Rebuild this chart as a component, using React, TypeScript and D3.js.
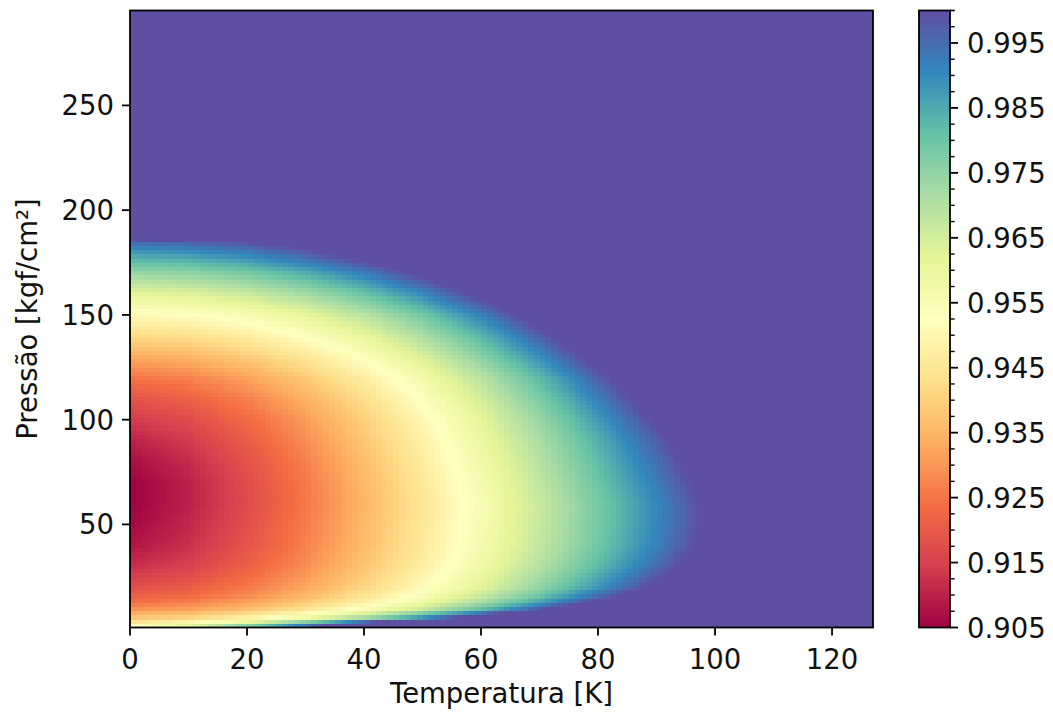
import React from "react";
import * as d3 from "d3";

// Grid of compressibility readings: temperature columns [K] and pressure rows [kgf/cm²].
// Cells past the Z = 1 edge carry values above 1; the colour scale saturates there.
const TEMPERATURES = [0, 10, 20, 30, 40, 50, 60, 70, 80, 90, 100, 127];
const PRESSURES = [1, 3, 6, 10, 15, 20, 30, 40, 50, 60, 70, 80, 90, 100, 110, 120, 130, 140, 150, 160, 170, 178, 184, 188, 295];

// One array per pressure row, values at each temperature column
const Z_P1 = [0.958, 0.968, 0.9828, 1.0, 1.018, 1.036, 1.055, 1.073, 1.091, 1.109, 1.127, 1.176];
const Z_P3 = [0.946, 0.9524, 0.9653, 0.983, 1.0045, 1.027, 1.05, 1.073, 1.095, 1.118, 1.141, 1.202];
const Z_P6 = [0.937, 0.9397, 0.9463, 0.9562, 0.9693, 0.9852, 1.0039, 1.0235, 1.043, 1.063, 1.082, 1.135];
const Z_P10 = [0.929, 0.931, 0.9361, 0.9437, 0.9536, 0.9658, 0.9801, 0.9965, 1.0142, 1.032, 1.05, 1.098];
const Z_P15 = [0.922, 0.9242, 0.9291, 0.9361, 0.945, 0.9556, 0.9679, 0.9816, 0.9968, 1.0129, 1.0291, 1.0728];
const Z_P20 = [0.918, 0.9205, 0.9257, 0.9327, 0.9412, 0.9512, 0.9624, 0.9749, 0.9884, 1.003, 1.0179, 1.0582];
const Z_P30 = [0.912, 0.9154, 0.9214, 0.9289, 0.9377, 0.9475, 0.9583, 0.9698, 0.9822, 0.9953, 1.0089, 1.0457];
const Z_P40 = [0.908, 0.9123, 0.919, 0.927, 0.936, 0.9459, 0.9564, 0.9676, 0.9794, 0.9917, 1.0045, 1.0393];
const Z_P50 = [0.906, 0.9109, 0.918, 0.9263, 0.9355, 0.9455, 0.956, 0.9671, 0.9787, 0.9907, 1.0031, 1.037];
const Z_P60 = [0.905, 0.9099, 0.9171, 0.9255, 0.9348, 0.9449, 0.9555, 0.9668, 0.9785, 0.9906, 1.0032, 1.0374];
const Z_P70 = [0.905, 0.91, 0.9174, 0.9259, 0.9354, 0.9457, 0.9566, 0.968, 0.98, 0.9924, 1.0051, 1.0399];
const Z_P80 = [0.907, 0.9115, 0.9185, 0.9269, 0.9364, 0.9467, 0.9577, 0.9695, 0.9818, 0.9947, 1.008, 1.0441];
const Z_P90 = [0.91, 0.914, 0.9206, 0.9287, 0.938, 0.9483, 0.9595, 0.9714, 0.984, 0.9973, 1.011, 1.0479];
const Z_P100 = [0.914, 0.9172, 0.9232, 0.9308, 0.9399, 0.9502, 0.9616, 0.974, 0.9873, 1.0015, 1.016, 1.0551];
const Z_P110 = [0.919, 0.9216, 0.9269, 0.9342, 0.943, 0.9533, 0.965, 0.9778, 0.9918, 1.0068, 1.022, 1.0629];
const Z_P120 = [0.925, 0.9271, 0.9318, 0.9386, 0.9471, 0.9573, 0.9691, 0.9823, 0.9969, 1.0124, 1.028, 1.07];
const Z_P130 = [0.933, 0.9347, 0.9389, 0.9453, 0.9536, 0.9638, 0.9758, 0.9894, 1.0047, 1.0204, 1.036, 1.0783];
const Z_P140 = [0.942, 0.9434, 0.9471, 0.953, 0.961, 0.971, 0.983, 0.997, 1.0122, 1.0275, 1.0428, 1.0841];
const Z_P150 = [0.951, 0.9521, 0.9555, 0.9611, 0.969, 0.9791, 0.9915, 1.0059, 1.0208, 1.0356, 1.0505, 1.0906];
const Z_P160 = [0.962, 0.9631, 0.9665, 0.9722, 0.9801, 0.9902, 1.0026, 1.0157, 1.0288, 1.0419, 1.055, 1.0904];
const Z_P170 = [0.974, 0.9751, 0.9785, 0.9842, 0.9921, 1.0022, 1.013, 1.0238, 1.0347, 1.0455, 1.0563, 1.0856];
const Z_P178 = [0.985, 0.9862, 0.9896, 0.9954, 1.0033, 1.0117, 1.02, 1.0283, 1.0367, 1.045, 1.0533, 1.0758];
const Z_P184 = [0.994, 0.995, 0.9982, 1.003, 1.008, 1.013, 1.018, 1.023, 1.028, 1.033, 1.038, 1.0515];
const Z_P188 = [1.004, 1.006, 1.01, 1.015, 1.02, 1.025, 1.03, 1.035, 1.04, 1.045, 1.05, 1.065];
const Z_P295 = [1, 1, 1, 1, 1, 1, 1, 1, 1, 1, 1, 1];

const Z_ROWS = [
  Z_P1, Z_P3, Z_P6, Z_P10, Z_P15, Z_P20, Z_P30, Z_P40, Z_P50, Z_P60, Z_P70, Z_P80,
  Z_P90, Z_P100, Z_P110, Z_P120, Z_P130, Z_P140, Z_P150, Z_P160, Z_P170, Z_P178,
  Z_P184, Z_P188, Z_P295,
];

// Axis ticks
const X_TICKS = [0, 20, 40, 60, 80, 100, 120];
const Y_TICKS = [50, 100, 150, 200, 250];
const CBAR_TICKS = [0.905, 0.915, 0.925, 0.935, 0.945, 0.955, 0.965, 0.975, 0.985, 0.995];

const X_DOMAIN: [number, number] = [0, 127];
const Y_DOMAIN: [number, number] = [0.8, 295.3];
const Z_DOMAIN: [number, number] = [0.905, 1.0];

// Mesh resolution of the drawn field
const T_CELLS = 127;
const P_CELLS = 147;

const SPECTRAL = [
  "#9e0142", "#d53e4f", "#f46d43", "#fdae61", "#fee08b", "#ffffbf",
  "#e6f598", "#abdda4", "#66c2a5", "#3288bd", "#5e4fa2",
];

const FONT = "DejaVu Sans, Verdana, sans-serif";
const FS = 27.5;
const INK = "#111";

const M = { left: 130, top: 10.5, right: 873, bottom: 627.5 };
const CB = { left: 919, right: 950 };

function clamp(v: number, lo: number, hi: number) {
  return Math.max(lo, Math.min(hi, v));
}

// Bilinear lookup in the reading grid
function sampleZ(t: number, p: number) {
  const i = clamp(d3.bisectRight(PRESSURES, p) - 1, 0, PRESSURES.length - 2);
  const j = clamp(d3.bisectRight(TEMPERATURES, t) - 1, 0, TEMPERATURES.length - 2);
  const fp = clamp((p - PRESSURES[i]) / (PRESSURES[i + 1] - PRESSURES[i]), 0, 1);
  const ft = clamp((t - TEMPERATURES[j]) / (TEMPERATURES[j + 1] - TEMPERATURES[j]), 0, 1);
  const a = Z_ROWS[i][j] * (1 - ft) + Z_ROWS[i][j + 1] * ft;
  const b = Z_ROWS[i + 1][j] * (1 - ft) + Z_ROWS[i + 1][j + 1] * ft;
  return a * (1 - fp) + b * fp;
}

export default function App() {
  const x = d3.scaleLinear().domain(X_DOMAIN).range([M.left, M.right]);
  const y = d3.scaleLinear().domain(Y_DOMAIN).range([M.bottom, M.top]);
  const zy = d3.scaleLinear().domain(Z_DOMAIN).range([M.bottom, M.top]);
  const color = d3
    .scaleLinear<string>()
    .domain(SPECTRAL.map((_, i) => Z_DOMAIN[0] + (i * (Z_DOMAIN[1] - Z_DOMAIN[0])) / (SPECTRAL.length - 1)))
    .range(SPECTRAL)
    .interpolate(d3.interpolateRgb)
    .clamp(true);

  const tEdges = d3.range(T_CELLS + 1).map((k) => X_DOMAIN[0] + (k * (X_DOMAIN[1] - X_DOMAIN[0])) / T_CELLS);
  const pEdges = d3.range(P_CELLS + 1).map((k) => Y_DOMAIN[0] + (k * (Y_DOMAIN[1] - Y_DOMAIN[0])) / P_CELLS);

  const cells: React.ReactElement[] = [];
  for (let r = 0; r < P_CELLS; r++) {
    const p0 = pEdges[r];
    const p1 = pEdges[r + 1];
    const y0 = y(p1);
    const h = y(p0) - y(p1);
    for (let c = 0; c < T_CELLS; c++) {
      const t0 = tEdges[c];
      const t1 = tEdges[c + 1];
      const z = sampleZ((t0 + t1) / 2, (p0 + p1) / 2);
      cells.push(
        <rect
          key={`${r}-${c}`}
          x={x(t0)}
          y={y0}
          width={x(t1) - x(t0) + 0.4}
          height={h + 0.4}
          fill={color(z)}
        />
      );
    }
  }

  const CB_STEPS = 256;
  const cbSlices = d3.range(CB_STEPS).map((k) => {
    const z0 = Z_DOMAIN[0] + (k * (Z_DOMAIN[1] - Z_DOMAIN[0])) / CB_STEPS;
    const z1 = Z_DOMAIN[0] + ((k + 1) * (Z_DOMAIN[1] - Z_DOMAIN[0])) / CB_STEPS;
    return (
      <rect
        key={k}
        x={CB.left}
        y={zy(z1)}
        width={CB.right - CB.left}
        height={zy(z0) - zy(z1) + 0.5}
        fill={color((z0 + z1) / 2)}
      />
    );
  });

  const minorTicks = d3
    .range(0, 39)
    .map((k) => Z_DOMAIN[0] + k * 0.0025)
    .concat([Z_DOMAIN[1]])
    .filter((v) => !CBAR_TICKS.some((t) => Math.abs(t - v) < 1e-6));

  const tickLen = 8;
  const pad = 8;

  return (
    <svg width={1053} height={716} style={{ display: "block", position: "absolute", left: 0, top: 0, background: "#fff" }}>
      <rect x={0} y={0} width={1053} height={716} fill="#fff" />
      <g shapeRendering="crispEdges">{cells}</g>
      <rect
        x={M.left}
        y={M.top}
        width={M.right - M.left}
        height={M.bottom - M.top}
        fill="none"
        stroke="#000"
        strokeWidth={1.8}
      />

      {/* x axis */}
      <g fontFamily={FONT} fontSize={FS} fill={INK}>
        {X_TICKS.map((t) => (
          <g key={t}>
            <line x1={x(t)} x2={x(t)} y1={M.bottom} y2={M.bottom + tickLen} stroke="#000" strokeWidth={1.8} />
            <text x={x(t)} y={669} textAnchor="middle">
              {t}
            </text>
          </g>
        ))}
        <text x={(M.left + M.right) / 2} y={703} textAnchor="middle">
          Temperatura [K]
        </text>
      </g>

      {/* y axis */}
      <g fontFamily={FONT} fontSize={FS} fill={INK}>
        {Y_TICKS.map((t) => (
          <g key={t}>
            <line x1={M.left - tickLen} x2={M.left} y1={y(t)} y2={y(t)} stroke="#000" strokeWidth={1.8} />
            <text x={M.left - tickLen - pad} y={y(t) + 10} textAnchor="end">
              {t}
            </text>
          </g>
        ))}
        <text
          transform={`translate(${37},${(M.top + M.bottom) / 2}) rotate(-90)`}
          textAnchor="middle"
        >
          Pressão [kgf/cm²]
        </text>
      </g>

      {/* colorbar */}
      <g shapeRendering="crispEdges">{cbSlices}</g>
      <rect
        x={CB.left}
        y={M.top}
        width={CB.right - CB.left}
        height={M.bottom - M.top}
        fill="none"
        stroke="#000"
        strokeWidth={1.8}
      />
      <g fontFamily={FONT} fontSize={FS} fill={INK}>
        {minorTicks.map((v) => (
          <line key={v} x1={CB.right} x2={CB.right + 4.6} y1={zy(v)} y2={zy(v)} stroke="#000" strokeWidth={1.4} />
        ))}
        {CBAR_TICKS.map((v) => (
          <g key={v}>
            <line x1={CB.right} x2={CB.right + tickLen} y1={zy(v)} y2={zy(v)} stroke="#000" strokeWidth={1.8} />
            <text x={CB.right + tickLen + pad + 1} y={zy(v) + 10}>
              {v.toFixed(3)}
            </text>
          </g>
        ))}
      </g>
    </svg>
  );
}
